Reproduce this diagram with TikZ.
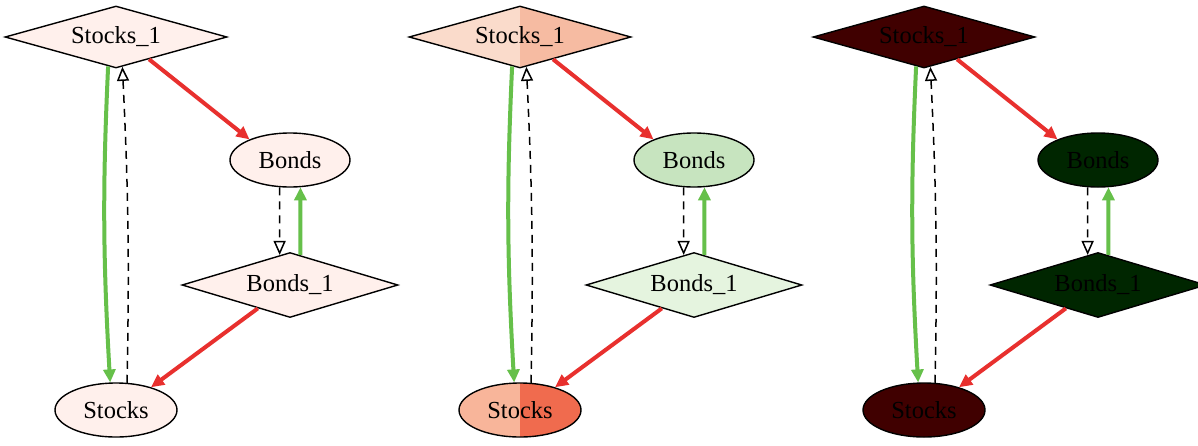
\documentclass[tikz,border=0pt]{standalone}
\usepackage{fontspec}
\setmainfont{Liberation Serif}
\usetikzlibrary{shapes.geometric,arrows.meta,bending}
\definecolor{gline}{HTML}{66C04A}
\definecolor{rline}{HTML}{E8302E}
\definecolor{fillA}{HTML}{FFF0EC}
\definecolor{s1l}{HTML}{FADBCB}
\definecolor{s1r}{HTML}{F6BBA2}
\definecolor{bg}{HTML}{C7E4BF}
\definecolor{b1g}{HTML}{E5F4DF}
\definecolor{stl}{HTML}{F8B59A}
\definecolor{str}{HTML}{F06B4E}
\definecolor{darkr}{HTML}{400000}
\definecolor{darkg}{HTML}{002600}
\tikzset{
  split/.style={path picture={\fill[#1] (path picture bounding box.north) rectangle (path picture bounding box.south east);}},
  lbl/.style={font=\fontsize{24.5}{24.5}\selectfont, text=black, inner sep=0pt, line width=1.4pt, draw=black},
  sdiam/.style={lbl, shape=diamond, aspect=3.6, minimum width=222pt, minimum height=62pt},
  bdiam/.style={lbl, shape=diamond, aspect=3.3, minimum width=216pt, minimum height=65pt},
  bell/.style={lbl, shape=ellipse, minimum width=120pt, minimum height=54pt},
  sell/.style={lbl, shape=ellipse, minimum width=122pt, minimum height=54pt},
  gedge/.style={draw=gline, line width=4pt, -{Triangle[length=13pt,width=12pt]}},
  redge/.style={draw=rline, line width=4pt, -{Triangle[length=13pt,width=12pt]}},
  dedge/.style={draw=black, line width=1.5pt, dash pattern=on 8pt off 6pt, -{Triangle[open,length=14pt,width=12pt]}}
}
\newcommand{\mypanel}[8]{%
\begin{scope}[xshift=#1pt]
  \node[sdiam, fill=#3, split=#4] (#2S1) at (116,37) {Stocks\_1};
  \node[bell, fill=#5] (#2B) at (290,160) {Bonds};
  \node[bdiam, fill=#6] (#2B1) at (290,285) {Bonds\_1};
  \node[sell, fill=#7, split=#8] (#2S) at (116,410) {Stocks};
  \draw[gedge] (#2S1.-105) to[bend right=3] (#2S.102);
  \draw[dedge] (#2S.68) to[bend right=2] (#2S1.-78);
  \draw[redge] (#2S1.-34) -- (#2B.153);
  \draw[dedge] (#2B.-111) -- (#2B1.109);
  \draw[gedge] (#2B1.71) -- (#2B.-69);
  \draw[redge] (#2B1.-144) -- (#2S.33);
\end{scope}}
\begin{document}
\begin{tikzpicture}[x=1pt,y=-1pt]
  \clip (0,0) rectangle (1198,445);
  \fill[white] (0,0) rectangle (1198,445);
  \mypanel{0}{a}{fillA}{fillA}{fillA}{fillA}{fillA}{fillA}
  \mypanel{404}{b}{s1l}{s1r}{bg}{b1g}{stl}{str}
  \mypanel{808}{c}{darkr}{darkr}{darkg}{darkg}{darkr}{darkr}
\end{tikzpicture}
\end{document}
